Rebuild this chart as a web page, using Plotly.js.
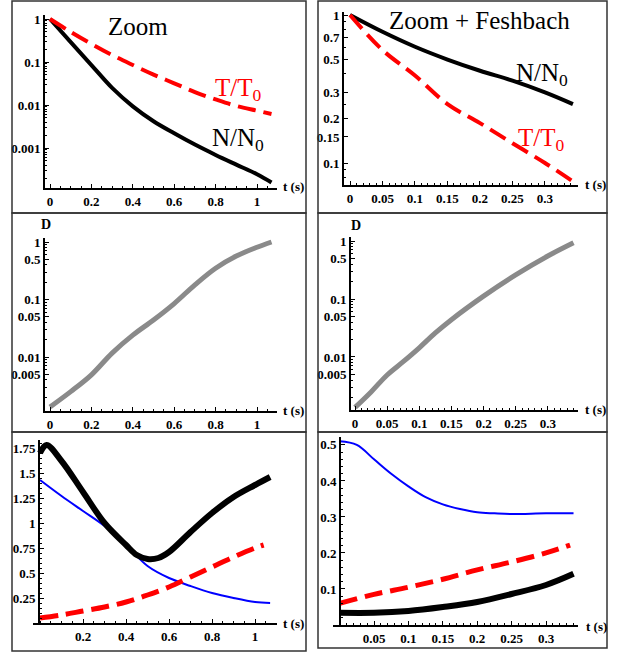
<!DOCTYPE html>
<html>
<head>
<meta charset="utf-8">
<script src="https://cdn.plot.ly/plotly-3.0.1.min.js"></script>
<style>html,body{margin:0;padding:0;background:#fff;}#chart{width:630px;height:656px;}</style>
</head>
<body>
<div id="chart"></div>
<script>
// ---------- data ----------
// Panel 1: Zoom (log scale)
const t1 = [0, 0.1, 0.2, 0.3, 0.4, 0.5, 0.6, 0.7, 0.8, 0.9, 1.0, 1.07];
const N1 = [1, 0.29, 0.085, 0.025, 0.0093, 0.0042, 0.0022, 0.0012, 0.00069, 0.00041, 0.000245, 0.000158];
const T1 = [1, 0.50, 0.263, 0.145, 0.085, 0.051, 0.032, 0.020, 0.0135, 0.0095, 0.0074, 0.0062];
// Panel 2: Zoom + Feshbach (log scale)
const t2 = [0, 0.05, 0.1, 0.15, 0.2, 0.25, 0.3, 0.343];
const N2 = [1, 0.77, 0.61, 0.50, 0.42, 0.36, 0.30, 0.25];
const T2 = [1, 0.58, 0.39, 0.25, 0.186, 0.136, 0.10, 0.075];
// Panel 3: D, Zoom
const t3 = [0, 0.1, 0.2, 0.3, 0.4, 0.5, 0.6, 0.7, 0.8, 0.9, 1.0, 1.07];
const D3 = [0.00135, 0.0025, 0.0049, 0.0117, 0.024, 0.044, 0.085, 0.18, 0.35, 0.57, 0.81, 1.0];
// Panel 4: D, Zoom + Feshbach
const t4 = [0, 0.025, 0.05, 0.075, 0.1, 0.125, 0.15, 0.2, 0.25, 0.3, 0.34];
const D4 = [0.00135, 0.0025, 0.0049, 0.0083, 0.0144, 0.026, 0.044, 0.112, 0.26, 0.55, 0.93];
// Panel 5: linear, Zoom
const t5k = [0, 0.03, 0.1, 0.2, 0.3, 0.4, 0.45, 0.5, 0.55, 0.6, 0.7, 0.8, 0.9, 1.0, 1.07];
const K5  = [1.70, 1.78, 1.62, 1.31, 1.00, 0.78, 0.68, 0.64, 0.65, 0.71, 0.91, 1.10, 1.26, 1.38, 1.46];
const t5b = [0, 0.1, 0.2, 0.3, 0.4, 0.5, 0.6, 0.7, 0.8, 0.9, 1.0, 1.07];
const B5  = [1.43, 1.27, 1.12, 0.97, 0.78, 0.57, 0.45, 0.37, 0.30, 0.25, 0.21, 0.20];
const t5r = [0, 0.1, 0.2, 0.3, 0.4, 0.5, 0.6, 0.7, 0.8, 0.9, 1.0, 1.04];
const R5  = [0.05, 0.08, 0.12, 0.16, 0.21, 0.28, 0.36, 0.46, 0.56, 0.66, 0.75, 0.78];
// Panel 6: linear, Zoom + Feshbach
const t6b = [0, 0.025, 0.05, 0.075, 0.1, 0.125, 0.15, 0.175, 0.2, 0.225, 0.25, 0.3, 0.34];
const B6  = [0.51, 0.50, 0.46, 0.42, 0.385, 0.355, 0.335, 0.322, 0.313, 0.31, 0.308, 0.31, 0.31];
const t6k = [0, 0.05, 0.1, 0.15, 0.2, 0.25, 0.3, 0.34];
const K6  = [0.034, 0.034, 0.039, 0.05, 0.064, 0.086, 0.111, 0.142];
const t6r = [0, 0.05, 0.1, 0.15, 0.2, 0.25, 0.3, 0.335];
const R6  = [0.06, 0.085, 0.105, 0.127, 0.153, 0.175, 0.2, 0.222];

// tick labels
const xTicksA = [0, 0.2, 0.4, 0.6, 0.8, 1];
const xTextA  = ['0', '0.2', '0.4', '0.6', '0.8', '1'];
const xTicksB = [0, 0.05, 0.1, 0.15, 0.2, 0.25, 0.3];
const xTextB  = ['0', '0.05', '0.1', '0.15', '0.2', '0.25', '0.3'];
const y1Ticks = [1, 0.1, 0.01, 0.001];
const y1Text  = ['1', '0.1', '0.01', '0.001'];
const y2Ticks = [1, 0.7, 0.5, 0.3, 0.2, 0.15, 0.1];
const y2Text  = ['1', '0.7', '0.5', '0.3', '0.2', '0.15', '0.1'];
const yDTicks = [1, 0.5, 0.1, 0.05, 0.01, 0.005];
const yDText  = ['1', '0.5', '0.1', '0.05', '0.01', '0.005'];
const y5Ticks = [0.25, 0.5, 0.75, 1, 1.25, 1.5, 1.75];
const y5Text  = ['0.25', '0.5', '0.75', '1', '1.25', '1.5', '1.75'];
const y6Ticks = [0.1, 0.2, 0.3, 0.4, 0.5];
const y6Text  = ['0.1', '0.2', '0.3', '0.4', '0.5'];
const x5Ticks = [0.2, 0.4, 0.6, 0.8, 1];
const x5Text  = ['0.2', '0.4', '0.6', '0.8', '1'];
const x6Ticks = [0.05, 0.1, 0.15, 0.2, 0.25, 0.3];
const x6Text  = ['0.05', '0.1', '0.15', '0.2', '0.25', '0.3'];

// ---------- layout helpers ----------
const W = 630, H = 656;
const px = x => x / W;
const py = y => 1 - y / H;
const xd = (a, b) => [px(a), px(b)];
const yd = (top, bot) => [py(bot), py(top)];

function logMinor(kmin, kmax) {
  const v = [];
  for (let k = kmin; k <= kmax; k++) for (let m = 2; m <= 9; m++) v.push(m * Math.pow(10, k));
  return v;
}

const tickFont = {family: 'Liberation Serif', size: 13, color: '#000', weight: 'bold'};
function xax(domain, range, tv, tt, anchor, mdt) {
  return {domain, range, anchor, tickmode: 'array', tickvals: tv, ticktext: tt,
    showgrid: false, zeroline: false, showline: true, linecolor: '#000', linewidth: 2,
    ticks: 'inside', ticklen: 4, tickwidth: 1, tickcolor: '#000', tickfont: tickFont,
    minor: {dtick: mdt, ticks: 'inside', ticklen: 2, tickcolor: '#000', showgrid: false}};
}
function yax(domain, range, tv, tt, anchor, type, minorVals, minorDtick) {
  const a = {domain, range, anchor, type, tickmode: 'array', tickvals: tv, ticktext: tt,
    showgrid: false, zeroline: false, showline: true, linecolor: '#000', linewidth: 2,
    ticks: 'inside', ticklen: 4, tickwidth: 1, tickcolor: '#000', tickfont: tickFont};
  if (minorVals) a.minor = {tickmode: 'array', tickvals: minorVals, ticks: 'inside', ticklen: 2, tickcolor: '#000', showgrid: false};
  else if (minorDtick) a.minor = {dtick: minorDtick, ticks: 'inside', ticklen: 2, tickcolor: '#000', showgrid: false};
  return a;
}

const red = '#ff0000', blk = '#000000', blu = '#0000ff', gry = '#8a8a8a';
const dash = '18px,8px';
const traces = [
  {x: t1, y: N1, xaxis: 'x', yaxis: 'y', mode: 'lines', line: {color: blk, width: 4, shape: 'spline'}},
  {x: t1, y: T1, xaxis: 'x', yaxis: 'y', mode: 'lines', line: {color: red, width: 4, dash: dash, shape: 'spline'}},
  {x: t2, y: N2, xaxis: 'x2', yaxis: 'y2', mode: 'lines', line: {color: blk, width: 4, shape: 'spline'}},
  {x: t2, y: T2, xaxis: 'x2', yaxis: 'y2', mode: 'lines', line: {color: red, width: 4, dash: dash, shape: 'spline'}},
  {x: t3, y: D3, xaxis: 'x3', yaxis: 'y3', mode: 'lines', line: {color: gry, width: 5, shape: 'spline'}},
  {x: t4, y: D4, xaxis: 'x4', yaxis: 'y4', mode: 'lines', line: {color: gry, width: 5, shape: 'spline'}},
  {x: t5b, y: B5, xaxis: 'x5', yaxis: 'y5', mode: 'lines', line: {color: blu, width: 2, shape: 'spline'}},
  {x: t5r, y: R5, xaxis: 'x5', yaxis: 'y5', mode: 'lines', line: {color: red, width: 5, dash: dash, shape: 'spline'}},
  {x: t5k, y: K5, xaxis: 'x5', yaxis: 'y5', mode: 'lines', line: {color: blk, width: 6, shape: 'spline'}},
  {x: t6b, y: B6, xaxis: 'x6', yaxis: 'y6', mode: 'lines', line: {color: blu, width: 2, shape: 'spline'}},
  {x: t6r, y: R6, xaxis: 'x6', yaxis: 'y6', mode: 'lines', line: {color: red, width: 5, dash: dash, shape: 'spline'}},
  {x: t6k, y: K6, xaxis: 'x6', yaxis: 'y6', mode: 'lines', line: {color: blk, width: 6, shape: 'spline'}}
];

const y5 = yax(yd(440, 623), [0, 1.83], y5Ticks, y5Text, 'free', 'linear', null, 0.05);
y5.position = px(39);
const y6 = yax(yd(437, 625), [0, 0.522], y6Ticks, y6Text, 'free', 'linear', null, 0.02);
y6.position = px(340);

function ann(text, x, y, size, color, bold) {
  return {text, x: px(x), y: py(y), xref: 'paper', yref: 'paper', showarrow: false,
    xanchor: 'center', yanchor: 'middle',
    font: {family: 'Liberation Serif', size, color, weight: bold ? 'bold' : 'normal'}};
}

const boxLine = {color: '#333', width: 1.5};
function rect(x0, y0, x1, y1) {
  return {type: 'rect', xref: 'paper', yref: 'paper', x0: px(x0), x1: px(x1), y0: py(y1), y1: py(y0), line: boxLine};
}

const layout = {
  width: W, height: H, margin: {l: 0, r: 0, t: 0, b: 0},
  paper_bgcolor: '#fff', plot_bgcolor: 'rgba(0,0,0,0)', showlegend: false,
  xaxis:  xax(xd(45, 277), [-0.0242, 1.0966], xTicksA, xTextA, 'y', 0.05),
  yaxis:  yax(yd(15, 188), [-3.93, 0.093], y1Ticks, y1Text, 'x', 'log', logMinor(-4, -1)),
  xaxis2: xax(xd(344, 578), [-0.00923, 0.3508], xTicksB, xTextB, 'y2', 0.01),
  yaxis2: yax(yd(12, 185), [-1.1486, 0.0203], y2Ticks, y2Text, 'x2', 'log', [0.08, 0.09, 0.25, 0.4, 0.6, 0.8, 0.9]),
  xaxis3: xax(xd(45, 277), [-0.0242, 1.0966], xTicksA, xTextA, 'y3', 0.05),
  yaxis3: yax(yd(238, 411), [-2.939, 0.0696], yDTicks, yDText, 'x3', 'log', logMinor(-3, -1)),
  xaxis4: xax(xd(351, 578), [-0.00625, 0.347], xTicksB, xTextB, 'y4', 0.01),
  yaxis4: yax(yd(237, 410), [-2.914, 0.069], yDTicks, yDText, 'x4', 'log', logMinor(-3, -1)),
  xaxis5: xax(xd(33, 277), [-0.0326, 1.102], x5Ticks, x5Text, 'y5', 0.05),
  yaxis5: y5,
  xaxis6: xax(xd(333, 578), [-0.0096, 0.3465], x6Ticks, x6Text, 'y6', 0.01),
  yaxis6: y6,
  annotations: [
    ann('Zoom', 138, 27, 25, '#000'),
    ann('T/T<sub>0</sub>', 238, 89, 25, red),
    ann('N/N<sub>0</sub>', 238, 140, 25, '#000'),
    ann('Zoom + Feshbach', 479, 20, 25, '#000'),
    ann('N/N<sub>0</sub>', 542, 74, 25, '#000'),
    ann('T/T<sub>0</sub>', 541, 140, 25, red),
    ann('t (s)', 293, 187, 13, '#000', true),
    ann('t (s)', 595, 184, 13, '#000', true),
    ann('t (s)', 293, 410, 13, '#000', true),
    ann('t (s)', 595, 409, 13, '#000', true),
    ann('t (s)', 293, 623, 13, '#000', true),
    ann('t (s)', 596, 626, 13, '#000', true),
    ann('D', 46, 224, 14, '#000', true),
    ann('D', 356, 226, 14, '#000', true)
  ],
  shapes: [
    rect(12, 1, 306, 213), rect(318, 1, 607, 213),
    rect(12, 213, 306, 432), rect(318, 213, 607, 432),
    rect(12, 432, 306, 651), rect(318, 432, 607, 648)
  ]
};

Plotly.newPlot('chart', traces, layout, {staticPlot: true, displayModeBar: false});
</script>
</body>
</html>
